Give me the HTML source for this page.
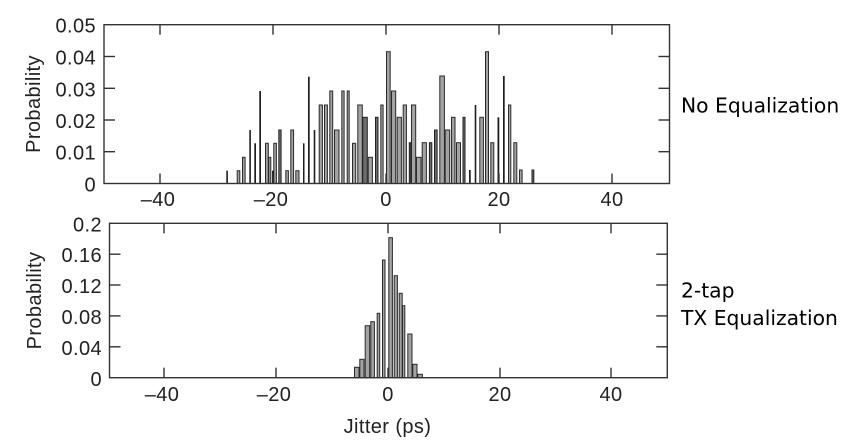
<!DOCTYPE html>
<html><head><meta charset="utf-8"><style>
html,body{margin:0;padding:0;background:#fff;}
svg{display:block;}
.t{font-family:"Liberation Sans",Arial,sans-serif;font-size:20px;fill:#222;letter-spacing:0.4px;}
.r{font-family:"DejaVu Sans","Liberation Sans",sans-serif;font-size:20.3px;fill:#000;}
.g{fill:#a3a3a3;stroke:#2a2a2a;stroke-width:1;}
.d{fill:#6e6e6e;stroke:#222;stroke-width:1;}
.k{fill:#1e1e1e;}
.ax{fill:none;stroke:#333;stroke-width:1.4;}
</style></head><body>
<svg width="851" height="445" viewBox="0 0 851 445" xmlns="http://www.w3.org/2000/svg">
<!-- TOP PLOT bars -->
<g>
<rect class="k" x="226.3" y="170.7" width="1.6" height="12.8"/>
<rect class="g" x="237.2" y="170.7" width="2.6" height="12.8"/>
<rect class="g" x="242.5" y="157.3" width="2.6" height="26.2"/>
<rect class="k" x="249.3" y="130" width="1.6" height="53.5"/>
<rect class="k" x="254.3" y="143.3" width="1.7" height="40.2"/>
<rect class="k" x="259.3" y="91" width="1.7" height="92.5"/>
<rect class="g" x="265.5" y="143.3" width="2.8" height="40.2"/>
<rect class="g" x="268.7" y="157.3" width="2.1" height="26.2"/>
<rect class="k" x="272" y="170.7" width="1.5" height="12.8"/>
<rect class="g" x="273.8" y="143.3" width="2.6" height="40.2"/>
<rect class="d" x="278.8" y="130" width="2.3" height="53.5"/>
<rect class="g" x="285.8" y="170.7" width="2.6" height="12.8"/>
<rect class="g" x="290.8" y="130" width="2.8" height="53.5"/>
<rect class="g" x="295.8" y="170.7" width="3.2" height="12.8"/>
<rect class="k" x="303" y="143.3" width="1.5" height="40.2"/>
<rect class="k" x="308" y="76.7" width="1.7" height="106.8"/>
<rect class="k" x="313.7" y="130" width="1.6" height="53.5"/>
<rect class="g" x="319.2" y="105" width="3.2" height="78.5"/>
<rect class="g" x="324.5" y="105" width="2.9" height="78.5"/>
<rect class="g" x="329.8" y="91" width="2.9" height="92.5"/>
<rect class="g" x="334.5" y="130" width="4.5" height="53.5"/>
<rect class="g" x="341.8" y="91" width="2.3" height="92.5"/>
<rect class="g" x="347.2" y="91" width="2" height="92.5"/>
<rect class="g" x="352.5" y="143.3" width="3.2" height="40.2"/>
<rect class="g" x="357.8" y="105" width="4.5" height="78.5"/>
<rect class="d" x="362.8" y="117.3" width="4.5" height="66.2"/>
<rect class="g" x="368.2" y="157.3" width="4.2" height="26.2"/>
<rect class="d" x="375.5" y="117.3" width="2.5" height="66.2"/>
<rect class="g" x="380.8" y="105" width="2.3" height="78.5"/>
<rect class="g" x="386.5" y="51.7" width="3.7" height="131.8"/>
<rect class="g" x="391.5" y="91" width="4.2" height="92.5"/>
<rect class="g" x="397.2" y="117.3" width="4.2" height="66.2"/>
<rect class="g" x="403.2" y="105" width="3.2" height="78.5"/>
<rect class="d" x="409.3" y="142.7" width="1.5" height="40.8"/>
<rect class="g" x="411.5" y="105" width="4.2" height="78.5"/>
<rect class="g" x="416.5" y="157.3" width="4.5" height="26.2"/>
<rect class="g" x="422.2" y="142.7" width="4.2" height="40.8"/>
<rect class="d" x="429.4" y="142.7" width="2.4" height="40.8"/>
<rect class="d" x="434.5" y="130" width="2.6" height="53.5"/>
<rect class="g" x="439.8" y="76" width="4.6" height="107.5"/>
<rect class="g" x="445.2" y="130" width="4.5" height="53.5"/>
<rect class="g" x="451.5" y="117.3" width="3.5" height="66.2"/>
<rect class="g" x="456.5" y="142.7" width="4" height="40.8"/>
<rect class="d" x="463" y="117.3" width="2" height="66.2"/>
<rect class="k" x="469" y="170" width="1.7" height="13.5"/>
<rect class="k" x="474.7" y="105" width="1.6" height="78.5"/>
<rect class="g" x="479.8" y="117.3" width="3.6" height="66.2"/>
<rect class="g" x="485.5" y="51.7" width="3" height="131.8"/>
<rect class="g" x="490.8" y="142.7" width="3" height="40.8"/>
<rect class="k" x="497.5" y="117.3" width="1.8" height="66.2"/>
<rect class="k" x="503" y="76" width="1.7" height="107.5"/>
<rect class="g" x="508.5" y="105" width="2.3" height="78.5"/>
<rect class="g" x="513.8" y="142.7" width="3" height="40.8"/>
<rect class="g" x="519.5" y="170" width="2.6" height="13.5"/>
<rect class="d" x="532" y="170" width="1.8" height="13.5"/>
</g>
<!-- TOP frame -->
<rect class="ax" x="104" y="24.7" width="565.5" height="158.8"/>
<g stroke="#333" stroke-width="1.4">
<line x1="160" y1="183.5" x2="160" y2="173.5"/><line x1="273" y1="183.5" x2="273" y2="173.5"/><line x1="386" y1="183.5" x2="386" y2="173.5"/><line x1="499" y1="183.5" x2="499" y2="173.5"/><line x1="612" y1="183.5" x2="612" y2="173.5"/>
<line x1="160" y1="24.7" x2="160" y2="34.7"/><line x1="273" y1="24.7" x2="273" y2="34.7"/><line x1="386" y1="24.7" x2="386" y2="34.7"/><line x1="499" y1="24.7" x2="499" y2="34.7"/><line x1="612" y1="24.7" x2="612" y2="34.7"/>
<line x1="104" y1="151.7" x2="115" y2="151.7"/><line x1="104" y1="120" x2="115" y2="120"/><line x1="104" y1="88.3" x2="115" y2="88.3"/><line x1="104" y1="56.5" x2="115" y2="56.5"/>
<line x1="669.5" y1="151.7" x2="658.5" y2="151.7"/><line x1="669.5" y1="120" x2="658.5" y2="120"/><line x1="669.5" y1="88.3" x2="658.5" y2="88.3"/><line x1="669.5" y1="56.5" x2="658.5" y2="56.5"/>
</g>
<g class="t" text-anchor="end">
<text x="96" y="191.5">0</text>
<text x="96" y="159.7">0.01</text>
<text x="96" y="128">0.02</text>
<text x="96" y="96.3">0.03</text>
<text x="96" y="64.5">0.04</text>
<text x="96" y="32.7">0.05</text>
</g>
<g class="t" text-anchor="middle">
<text x="158" y="206">–40</text>
<text x="271" y="206">–20</text>
<text x="386" y="206">0</text>
<text x="499" y="206">20</text>
<text x="612" y="206">40</text>
</g>
<text class="t" text-anchor="middle" transform="translate(40,104) rotate(-90)">Probability</text>
<text class="r" x="681" y="112.5">No Equalization</text>

<!-- BOTTOM PLOT bars -->
<g>
<rect class="g" x="354.5" y="367.3" width="4.5" height="10.4"/>
<rect class="g" x="359.8" y="359.3" width="4.2" height="18.4"/>
<rect class="g" x="365.2" y="325.7" width="4.5" height="52"/>
<rect class="g" x="370.8" y="321.7" width="3.6" height="56"/>
<rect class="g" x="377.2" y="313.3" width="2.5" height="64.4"/>
<rect class="g" x="382.5" y="260" width="2.5" height="117.7"/>
<rect class="g" x="388.8" y="237.7" width="3.6" height="140"/>
<rect class="g" x="394.2" y="275.7" width="3.2" height="102"/>
<rect class="g" x="399.2" y="293.3" width="3" height="84.4"/>
<rect class="g" x="402.5" y="305.7" width="2.3" height="72"/>
<rect class="g" x="407.8" y="334" width="4.2" height="43.7"/>
<rect class="g" x="412.8" y="364.3" width="4.2" height="13.4"/>
<rect class="g" x="417.8" y="374.3" width="4.6" height="3.4"/>
</g>
<rect class="ax" x="109.5" y="223.3" width="557.8" height="154.4"/>
<g stroke="#333" stroke-width="1.4">
<line x1="164" y1="377.7" x2="164" y2="367.7"/><line x1="276" y1="377.7" x2="276" y2="367.7"/><line x1="388" y1="377.7" x2="388" y2="367.7"/><line x1="500" y1="377.7" x2="500" y2="367.7"/><line x1="611" y1="377.7" x2="611" y2="367.7"/>
<line x1="164" y1="223.3" x2="164" y2="233.3"/><line x1="276" y1="223.3" x2="276" y2="233.3"/><line x1="388" y1="223.3" x2="388" y2="233.3"/><line x1="500" y1="223.3" x2="500" y2="233.3"/><line x1="611" y1="223.3" x2="611" y2="233.3"/>
<line x1="109.5" y1="346.8" x2="120.5" y2="346.8"/><line x1="109.5" y1="315.9" x2="120.5" y2="315.9"/><line x1="109.5" y1="285" x2="120.5" y2="285"/><line x1="109.5" y1="254.2" x2="120.5" y2="254.2"/>
<line x1="667.3" y1="346.8" x2="656.3" y2="346.8"/><line x1="667.3" y1="315.9" x2="656.3" y2="315.9"/><line x1="667.3" y1="285" x2="656.3" y2="285"/><line x1="667.3" y1="254.2" x2="656.3" y2="254.2"/>
</g>
<g class="t" text-anchor="end">
<text x="102" y="386">0</text>
<text x="102" y="355">0.04</text>
<text x="102" y="324">0.08</text>
<text x="102" y="293">0.12</text>
<text x="102" y="262.2">0.16</text>
<text x="102" y="231.5">0.2</text>
</g>
<g class="t" text-anchor="middle">
<text x="162" y="401">–40</text>
<text x="274" y="401">–20</text>
<text x="388" y="401">0</text>
<text x="500" y="401">20</text>
<text x="611" y="401">40</text>
</g>
<text class="t" text-anchor="middle" transform="translate(41,300.5) rotate(-90)">Probability</text>
<text class="t" text-anchor="middle" x="387.5" y="433">Jitter (ps)</text>
<text class="r" x="681" y="297.3">2-tap</text>
<text class="r" x="681" y="325">TX Equalization</text>
</svg>
</body></html>
